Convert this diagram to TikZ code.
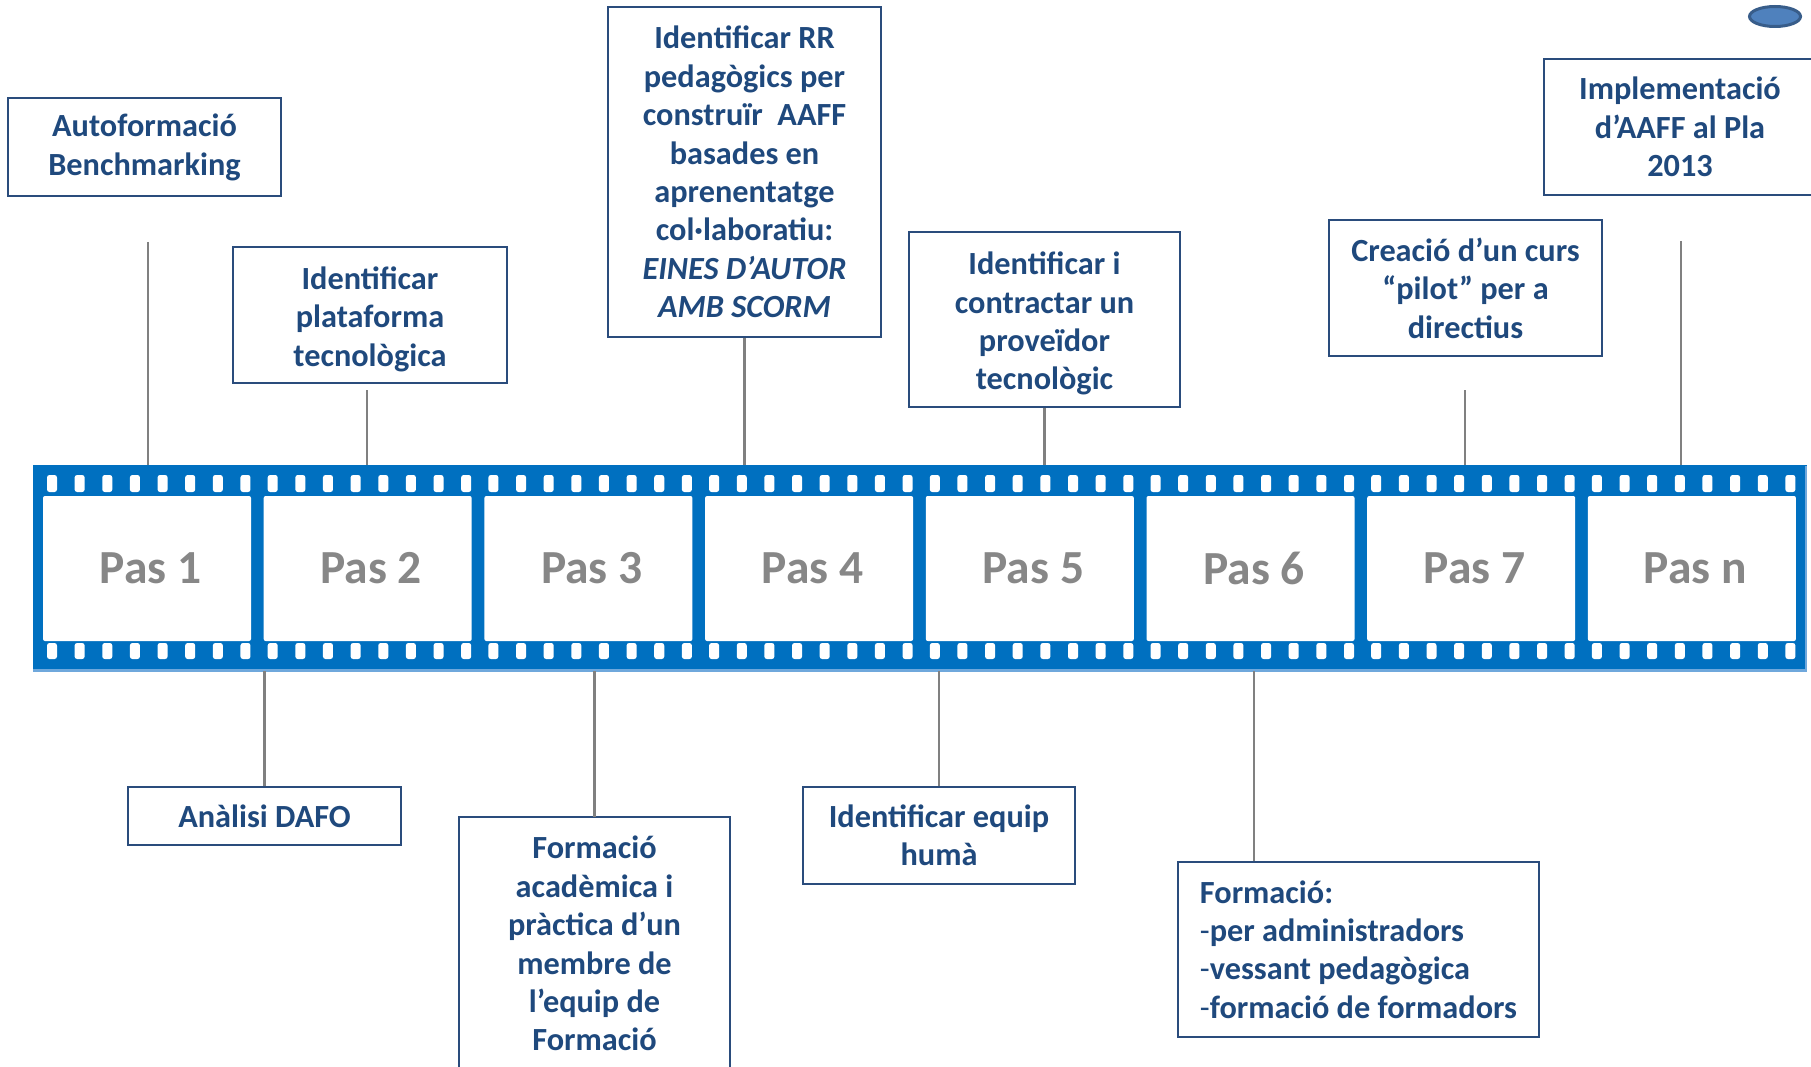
\documentclass[tikz,border=0pt]{standalone}
\usepackage{fontspec}
\setmainfont{Carlito}
\usetikzlibrary{shapes.geometric}
\definecolor{filmblue}{HTML}{0070C0}
\definecolor{filmedge}{HTML}{6FA8DC}
\definecolor{boxtext}{HTML}{1F497D}
\definecolor{boxline}{HTML}{2A4C7C}
\definecolor{conngray}{HTML}{808080}
\definecolor{pasgray}{HTML}{878787}
\definecolor{dotfill}{HTML}{4F81BD}
\definecolor{dotline}{HTML}{385D8A}
\newcommand{\nudgestrut}{\rule{0pt}{31pt}}
\tikzset{
  boxfont/.style={font=\bfseries\fontsize{32.3}{38.4}\selectfont},
  stepbox/.style 2 args={draw=boxline, line width=2pt, fill=white, text=boxtext,
    boxfont, align=center, inner sep=0pt,
    minimum width=#1, minimum height=#2},
  boxborder/.style={draw=boxline, line width=2pt},
  conn/.style={draw=conngray, line width=2.4pt},
  frame/.style={fill=white, rounded corners=2pt, inner sep=0pt,
    minimum width=208, minimum height=145},
  paslabel/.style={text=pasgray, inner sep=0pt,
    font=\bfseries\fontsize{47.5}{50}\selectfont},
  hole/.style={fill=white, rounded corners=2.5pt}
}
\begin{document}
\begin{tikzpicture}[x=1pt,y=-1pt]
\path[use as bounding box] (0,0) rectangle (1811,1067);
\clip (0,0) rectangle (1811,1067);

% film strip
\node[fill=filmblue, minimum width=1774, minimum height=206, inner sep=0pt] (strip) at (920,568) {};
\fill[filmedge] (33,669) rectangle (1807,672);
\fill[filmedge] (1805,466) rectangle (1807,672);
\foreach \k in {0,...,7} {
  \foreach \i in {0,...,7} {
    \pgfmathsetmacro\hx{43+220.7*\k+9+27.64*\i}
    \path[hole] (\hx-5,475) rectangle (\hx+5,492);
    \path[hole] (\hx-5,643) rectangle (\hx+5,659);
  }
}
\foreach \lab [count=\k from 0] in {1,2,3,4,5,6,7,n} {
  \node[frame] (p\lab) at (147+220.7*\k,568.5) {};
  \node[paslabel] (t\lab) at (150.5+220.7*\k,568.5) {Pas \lab};
}

% top boxes
\node[stepbox={273}{98}] (auto) at (144.5,147.5) {Autoformació\\Benchmarking};
\node[stepbox={274}{136}] (plat) at (370,315) {\nudgestrut Identificar\\plataforma\\tecnològica};
\node[stepbox={273}{330}] (rr) at (744.5,172) {Identificar RR\\pedagògics per\\construïr~~AAFF\\basades en\\aprenentatge\\col·laboratiu:\\\textit{EINES D’AUTOR}\\\textit{AMB SCORM}};
\node[stepbox={271}{175}] (contr) at (1044.5,319.5) {\nudgestrut Identificar i\\contractar un\\proveïdor\\tecnològic};
\node[stepbox={273}{136}] (creacio) at (1465.5,288) {Creació d’un curs\\“pilot” per a\\directius};
\node[stepbox={272}{136}] (impl) at (1680,127) {Implementació\\d’AAFF al Pla\\2013};

% bottom boxes
\node[stepbox={273}{58}] (dafo) at (264.5,816) {Anàlisi DAFO};
\node[text=boxtext, boxfont, align=center,
  inner xsep=0pt, inner ysep=19pt, minimum width=271, anchor=north] (acad) at (594.5,817)
  {Formació\\acadèmica i\\pràctica d’un\\membre de\\l’equip de\\Formació};
\draw[boxborder] (acad.north west) rectangle ([yshift=-320pt]acad.north east);
\node[stepbox={361}{175}, align=left] (form) at (1358.5,949.5)
  {Formació:\\{\mdseries -}per administradors\\{\mdseries -}vessant pedagògica\\{\mdseries -}formació de formadors};

\node[stepbox={272}{97}] (equip) at (939,835.5) {Identificar equip\\humà};

% connectors, top
\coordinate (c1) at (148,242);
\coordinate (c2) at (367,390);
\coordinate (c7) at (1465,390);
\coordinate (c8) at (1681,241);
\draw[conn] (c1) -- (c1 |- strip.north);
\draw[conn] (c2) -- (c2 |- strip.north);
\draw[conn] (rr.south) -- (rr.south |- strip.north);
\draw[conn] (contr.south) -- (contr.south |- strip.north);
\draw[conn] (c7) -- (c7 |- strip.north);
\draw[conn] (c8) -- (c8 |- strip.north);

% connectors, bottom
\coordinate (c6) at (1254,671);
\draw[conn] (dafo.north |- strip.south) -- (dafo.north);
\draw[conn] (acad.north |- strip.south) -- (acad.north);
\draw[conn] (equip.north |- strip.south) -- (equip.north);
\draw[conn] (c6) -- (c6 |- form.north);

% ellipse
\node[ellipse, draw=dotline, fill=dotfill, line width=3pt, minimum width=51, minimum height=20, inner sep=0pt] (dot) at (1775,16.5) {};
\end{tikzpicture}
\end{document}
